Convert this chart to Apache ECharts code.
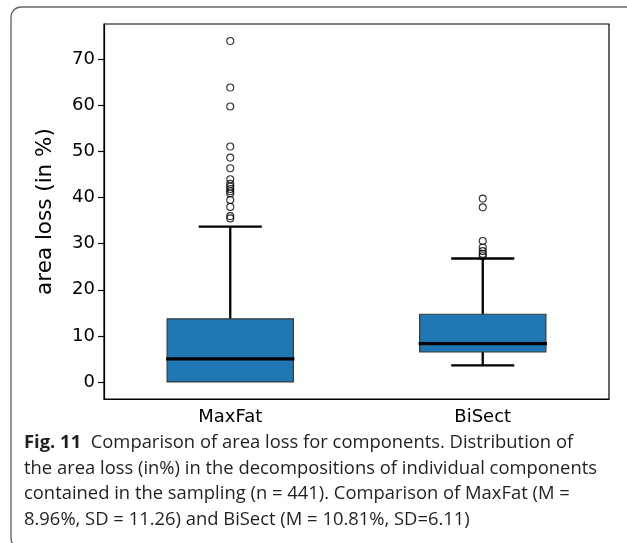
<!DOCTYPE html>
<html>
<head>
<meta charset="utf-8">
<script src="https://cdn.jsdelivr.net/npm/echarts@6/dist/echarts.min.js"></script>
<style>
  html, body { margin: 0; padding: 0; background: #fff; }
  #chart { width: 627px; height: 543px; }
</style>
</head>
<body>
<div id="chart"></div>
<script>
// ---- data ----
const categories = ['MaxFat', 'BiSect'];
// [min whisker, q1, median, q3, max whisker]
const maxFatStats = [0, 0, 5.0, 13.7, 33.7];
const biSectStats = [3.6, 6.5, 8.3, 14.7, 26.8];
const maxFatOutliers = [74.0, 63.9, 59.8, 51.1, 48.7, 46.4, 44.0, 43.0, 42.4, 41.9, 41.4, 40.9, 39.5, 38.0, 36.0, 35.5];
const biSectOutliers = [39.8, 37.9, 30.6, 29.2, 28.4, 27.8, 27.3];
const yTicks = [0, 10, 20, 30, 40, 50, 60, 70];
const yLabel = 'area loss (in %)';
const captionBold = 'Fig. 11';
const captionLines = [
  '  Comparison of area loss for components. Distribution of',
  'the area loss (in%) in the decompositions of individual components',
  'contained in the sampling (n = 441). Comparison of MaxFat (M =',
  '8.96%, SD = 11.26) and BiSect (M = 10.81%, SD=6.11)'
];

// ---- chart ----
const chart = echarts.init(document.getElementById('chart'), null, { renderer: 'canvas' });

const boxData = [
  [0].concat(maxFatStats),
  [1].concat(biSectStats)
];
const outlierData = [];
maxFatOutliers.forEach(v => outlierData.push([0, v]));
biSectOutliers.forEach(v => outlierData.push([1, v]));

function renderBox(params, api) {
  const x = api.value(0);
  const vMin = api.value(1), q1 = api.value(2), med = api.value(3), q3 = api.value(4), vMax = api.value(5);
  const band = api.size([1, 0])[0];
  const hw = band * 0.25;
  const cw = band * 0.125;
  const pMin = api.coord([x, vMin]);
  const pQ1 = api.coord([x, q1]);
  const pMed = api.coord([x, med]);
  const pQ3 = api.coord([x, q3]);
  const pMax = api.coord([x, vMax]);
  const cx = pMed[0];
  const lineStyle = { stroke: '#000', lineWidth: 2.3 };
  const children = [
    { type: 'line', shape: { x1: cx, y1: pQ3[1], x2: cx, y2: pMax[1] }, style: lineStyle },
    { type: 'line', shape: { x1: cx - cw, y1: pMax[1], x2: cx + cw, y2: pMax[1] }, style: lineStyle }
  ];
  if (vMin < q1) {
    children.push({ type: 'line', shape: { x1: cx, y1: pQ1[1], x2: cx, y2: pMin[1] }, style: lineStyle });
    children.push({ type: 'line', shape: { x1: cx - cw, y1: pMin[1], x2: cx + cw, y2: pMin[1] }, style: lineStyle });
  }
  children.push(
    { type: 'rect', shape: { x: cx - hw, y: pQ3[1], width: 2 * hw, height: pQ1[1] - pQ3[1] },
      style: { fill: '#1f77b4', stroke: '#3a3a3a', lineWidth: 1.2 } },
    { type: 'line', shape: { x1: cx - hw - 1, y1: pMed[1], x2: cx + hw + 1, y2: pMed[1] },
      style: { stroke: '#000', lineWidth: 3.3 } }
  );
  return { type: 'group', children: children };
}

// caption scaling to match the condensed caption face
const capFont = '"Open Sans", "Noto Sans", sans-serif';
const capSize = 18;
const mctx = document.createElement('canvas').getContext('2d');
mctx.font = capSize + 'px ' + capFont;
const refWidth = mctx.measureText(captionLines[1]).width;
const capScale = 573 / refWidth;
const capY = [443, 469, 494, 520];

const graphics = [
  { type: 'rect', shape: { x: 11, y: 7, width: 625, height: 541, r: 10 },
    style: { fill: 'none', stroke: '#6a6a6a', lineWidth: 1.4 }, silent: true, z: 0 }
];
captionLines.forEach((t, i) => {
  graphics.push({
    type: 'text', x: 24, y: capY[i], scaleX: capScale, scaleY: 1,
    style: {
      text: i === 0 ? '{b|' + captionBold + '}' + t : t,
      fontSize: capSize, fontFamily: capFont, fill: '#231f20',
      verticalAlign: 'middle', align: 'left',
      rich: { b: { fontSize: capSize, fontFamily: capFont, fontWeight: 'bold', fill: '#231f20' } }
    },
    z: 10
  });
});

const option = {
  animation: false,
  backgroundColor: '#fff',
  grid: { left: 104, right: 18, top: 24, bottom: 144, show: true, borderColor: '#000', borderWidth: 1.2, backgroundColor: 'transparent' },
  xAxis: {
    type: 'category',
    data: categories,
    boundaryGap: true,
    axisLine: { onZero: false, lineStyle: { color: '#000', width: 1.2 } },
    axisTick: { alignWithLabel: true, length: 6, lineStyle: { color: '#000', width: 1.2 } },
    axisLabel: { margin: 9, fontSize: 18, fontFamily: 'DejaVu Sans', color: '#000' },
    splitLine: { show: false }
  },
  yAxis: {
    type: 'value',
    min: -3.7,
    max: 77.7,
    name: yLabel,
    nameLocation: 'middle',
    nameGap: 48,
    nameRotate: 90,
    nameTextStyle: { fontSize: 21.5, fontFamily: 'DejaVu Sans', color: '#000' },
    axisLine: { show: true, onZero: false, lineStyle: { color: '#000', width: 1.2 } },
    axisTick: { show: true, length: 6, customValues: yTicks, lineStyle: { color: '#000', width: 1.2 } },
    axisLabel: { margin: 9, fontSize: 18, fontFamily: 'DejaVu Sans', color: '#000', customValues: yTicks },
    splitLine: { show: false }
  },
  series: [
    {
      type: 'custom',
      renderItem: renderBox,
      data: boxData,
      encode: { x: 0, y: [1, 2, 3, 4, 5] },
      z: 2
    },
    {
      type: 'scatter',
      data: outlierData,
      symbol: 'circle',
      symbolSize: 7,
      itemStyle: { color: 'rgba(255,255,255,0)', borderColor: '#000', borderWidth: 1.1 },
      z: 3
    }
  ],
  graphic: graphics
};
chart.setOption(option);
</script>
</body>
</html>
